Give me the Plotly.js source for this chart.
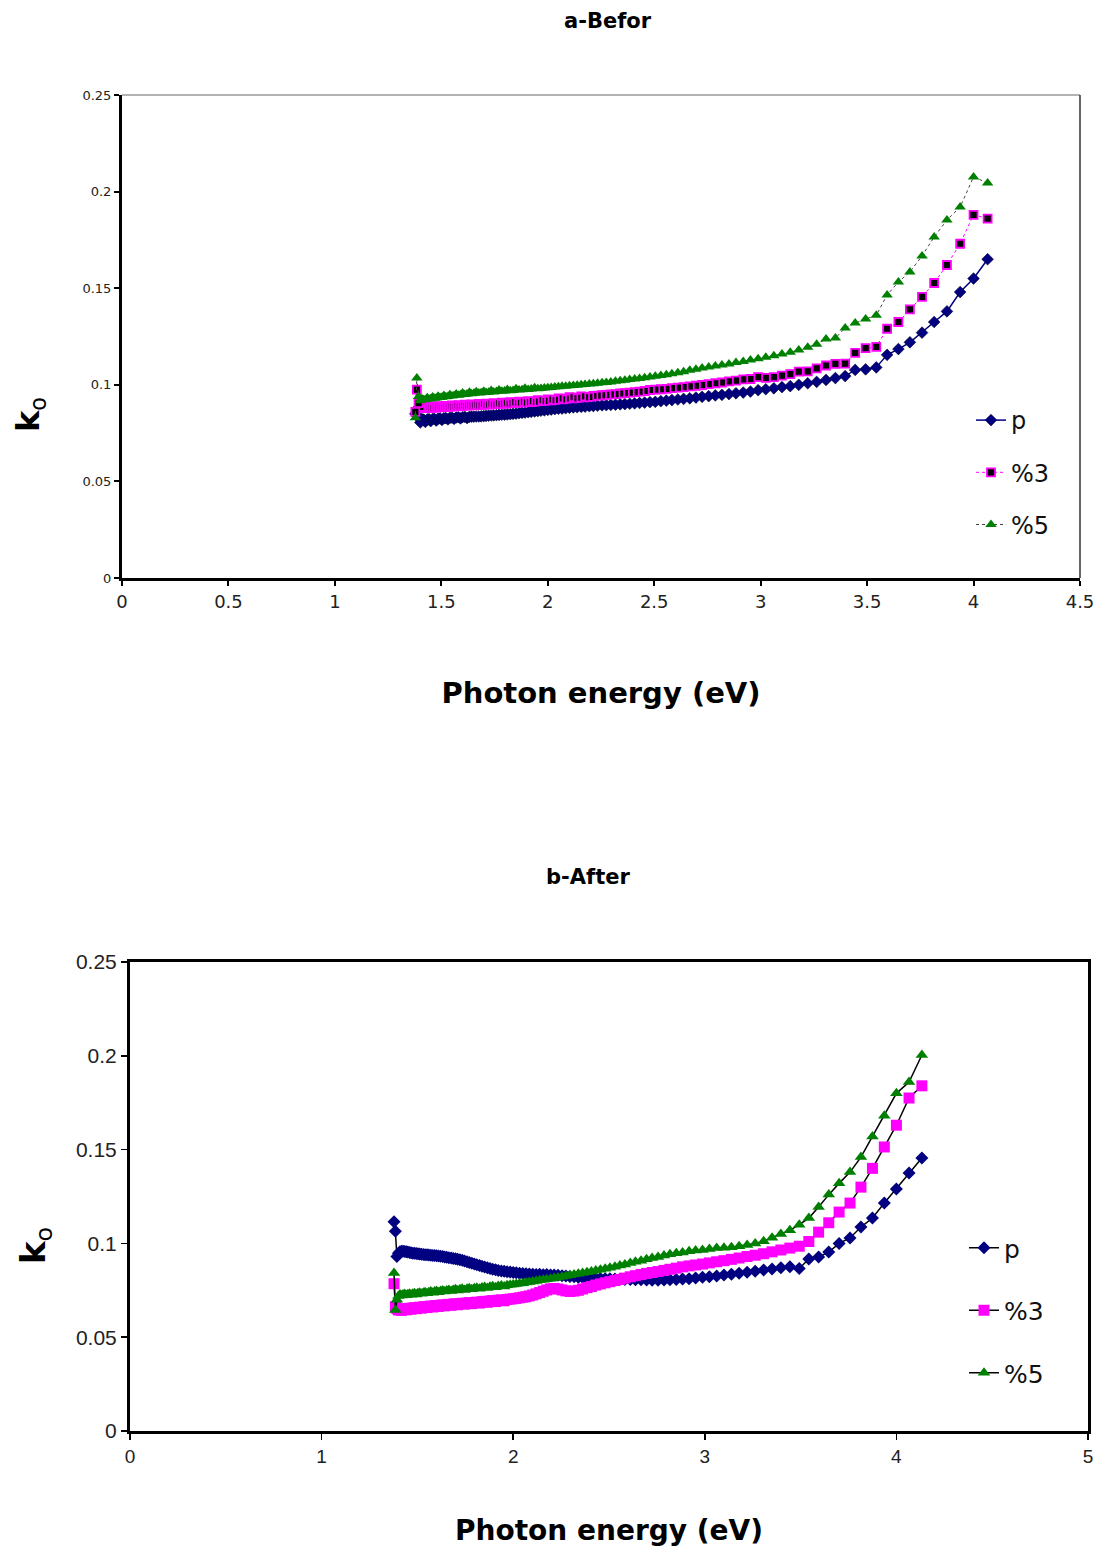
<!DOCTYPE html>
<html><head><meta charset="utf-8">
<script src="https://cdn.plot.ly/plotly-3.0.1.min.js"></script>
<style>html,body{margin:0;padding:0;background:#fff}#chart{width:1103px;height:1551px}</style>
</head><body><div id="chart"></div>
<script>
// Photon energy (eV) for each measured wavelength, 300 nm ... 900 nm in 5 nm steps
const energy = [4.133,4.066,4.000,3.937,3.875,3.815,3.758,3.701,3.647,3.594,
3.543,3.493,3.444,3.397,3.351,3.307,3.263,3.221,3.179,3.139,
3.100,3.062,3.024,2.988,2.952,2.918,2.884,2.851,2.818,2.787,
2.756,2.725,2.696,2.667,2.638,2.611,2.583,2.557,2.531,2.505,
2.480,2.455,2.431,2.408,2.385,2.362,2.340,2.318,2.296,2.275,
2.255,2.234,2.214,2.195,2.175,2.157,2.138,2.120,2.102,2.084,
2.067,2.050,2.033,2.016,2.000,1.984,1.968,1.953,1.938,1.922,
1.908,1.893,1.879,1.865,1.851,1.837,1.824,1.810,1.797,1.784,
1.771,1.759,1.746,1.734,1.722,1.710,1.699,1.687,1.676,1.664,
1.653,1.642,1.632,1.621,1.610,1.600,1.590,1.580,1.570,1.560,
1.550,1.540,1.531,1.521,1.512,1.503,1.494,1.485,1.476,1.467,
1.459,1.450,1.442,1.434,1.425,1.417,1.409,1.401,1.393,1.385,1.378];

const seriesNames = ['p', '%3', '%5'];

// a-Befor
const before_p = [null,0.165,0.155,0.148,0.138,0.1325,0.127,0.122,0.1185,0.1155,
0.109,0.108,0.1077,0.1045,0.1035,0.1025,0.1015,0.1008,0.1000,0.0993,
0.0988,0.0982,0.0977,0.0972,0.0965,0.0960,0.0956,0.0952,0.0948,0.0945,
0.0941,0.0938,0.0934,0.0930,0.0927,0.0924,0.0921,0.0918,0.0915,0.0912,
0.0910,0.0908,0.0906,0.0904,0.0902,0.0900,0.0899,0.0897,0.0896,0.0895,
0.0894,0.0892,0.0890,0.0889,0.0887,0.0886,0.0884,0.0883,0.0881,0.0879,
0.0877,0.0876,0.0874,0.0872,0.0870,0.0868,0.0866,0.0864,0.0862,0.0860,
0.0858,0.0856,0.0855,0.0853,0.0851,0.0850,0.0848,0.0847,0.0846,0.0845,
0.0844,0.0843,0.0842,0.0841,0.0840,0.0839,0.0838,0.0837,0.0836,0.0836,
0.0835,0.0835,0.0834,0.0828,0.0834,0.0833,0.0826,0.0832,0.0831,0.0824,
0.0830,0.0829,0.0821,0.0828,0.0827,0.0818,0.0826,0.0825,0.0815,0.0824,
0.0823,0.0812,0.0822,0.0821,0.0808,0.0820,0.0822,0.0805,0.0830,0.0875,0.0850];

const before_3 = [null,0.186,0.188,0.173,0.162,0.1527,0.1455,0.139,0.1325,0.129,
0.1196,0.119,0.1165,0.111,0.1108,0.110,0.1085,0.1070,0.1068,0.1055,
0.1048,0.1040,0.1036,0.1040,0.1030,0.1028,0.1022,0.1018,0.1012,0.1008,
0.1003,0.0999,0.0995,0.0992,0.0988,0.0985,0.0983,0.0979,0.0977,0.0975,
0.0973,0.0968,0.0965,0.0962,0.0960,0.0957,0.0955,0.0952,0.0950,0.0948,
0.0946,0.0944,0.0942,0.0938,0.0935,0.0940,0.0933,0.0930,0.0936,0.0928,
0.0925,0.0930,0.0922,0.0920,0.0925,0.0917,0.0915,0.0920,0.0913,0.0911,
0.0916,0.0910,0.0908,0.0913,0.0907,0.0905,0.0910,0.0904,0.0902,0.0907,
0.0901,0.0900,0.0905,0.0899,0.0898,0.0903,0.0897,0.0896,0.0901,0.0895,
0.0894,0.0899,0.0893,0.0892,0.0897,0.0891,0.0890,0.0895,0.0889,0.0888,
0.0893,0.0887,0.0886,0.0891,0.0885,0.0884,0.0889,0.0883,0.0882,0.0888,
0.0882,0.0881,0.0887,0.0881,0.0880,0.0886,0.0882,0.0885,0.0905,0.0975,0.0860];

const before_5 = [null,0.2045,0.2076,0.192,0.1853,0.1765,0.1667,0.1584,0.1532,0.1465,
0.136,0.134,0.132,0.1294,0.1242,0.1237,0.1210,0.1195,0.1180,0.1168,
0.1160,0.1150,0.1142,0.1135,0.1128,0.1120,0.1115,0.1108,0.1102,0.1097,
0.1092,0.1087,0.1080,0.1075,0.1068,0.1062,0.1057,0.1052,0.1048,0.1044,
0.1040,0.1036,0.1033,0.1030,0.1027,0.1024,0.1021,0.1018,0.1015,0.1012,
0.1010,0.1008,0.1006,0.1004,0.1002,0.1000,0.0998,0.0997,0.0995,0.0993,
0.0992,0.0990,0.0988,0.0986,0.0985,0.0983,0.0981,0.0980,0.0985,0.0978,
0.0976,0.0982,0.0975,0.0973,0.0979,0.0971,0.0969,0.0976,0.0968,0.0966,
0.0973,0.0965,0.0963,0.0970,0.0962,0.0960,0.0967,0.0959,0.0957,0.0964,
0.0956,0.0954,0.0961,0.0952,0.0950,0.0957,0.0948,0.0946,0.0953,0.0944,
0.0942,0.0949,0.0940,0.0938,0.0945,0.0936,0.0934,0.0941,0.0932,0.0930,
0.0937,0.0928,0.0926,0.0933,0.0924,0.0922,0.0928,0.0918,0.0940,0.1035,0.0830];

// b-After
const after_p = [0.1455,0.1375,0.1290,0.1215,0.1135,0.1087,0.1029,0.1000,0.0954,0.0927,
0.0917,0.0866,0.0875,0.0870,0.0864,0.0858,0.0852,0.0846,0.0841,0.0836,
0.0831,0.0826,0.0822,0.0819,0.0815,0.0812,0.0810,0.0808,0.0806,0.0805,
0.0804,0.0804,0.0805,0.0806,0.0806,0.0807,0.0808,0.0809,0.0810,0.0811,
0.0812,0.0813,0.0814,0.0815,0.0817,0.0818,0.0820,0.0822,0.0824,0.0826,
0.0828,0.0830,0.0831,0.0832,0.0834,0.0833,0.0835,0.0834,0.0836,0.0837,
0.0838,0.0840,0.0841,0.0843,0.0845,0.0847,0.0849,0.0851,0.0853,0.0856,
0.0859,0.0862,0.0866,0.0870,0.0874,0.0878,0.0882,0.0886,0.0890,0.0894,
0.0898,0.0902,0.0906,0.0910,0.0913,0.0916,0.0918,0.0920,0.0922,0.0924,
0.0926,0.0928,0.0930,0.0932,0.0933,0.0934,0.0935,0.0936,0.0937,0.0938,
0.0939,0.0940,0.0941,0.0942,0.0943,0.0945,0.0946,0.0947,0.0948,0.0950,
0.0952,0.0954,0.0955,0.0957,0.0958,0.0958,0.0955,0.0948,0.0930,0.1065,0.1115];

const after_3 = [0.1840,0.1775,0.1630,0.1514,0.1400,0.1300,0.1215,0.1167,0.1110,0.1060,
0.1010,0.0985,0.0975,0.0965,0.0955,0.0945,0.0937,0.0930,0.0922,0.0915,
0.0908,0.0902,0.0896,0.0890,0.0885,0.0880,0.0875,0.0868,0.0862,0.0856,
0.0850,0.0845,0.0840,0.0834,0.0828,0.0822,0.0815,0.0808,0.0802,0.0796,
0.0790,0.0784,0.0778,0.0770,0.0764,0.0757,0.0750,0.0746,0.0744,0.0747,
0.0752,0.0757,0.0760,0.0758,0.0752,0.0745,0.0738,0.0731,0.0725,0.0720,
0.0716,0.0713,0.0710,0.0707,0.0705,0.0703,0.0701,0.0694,0.0699,0.0697,
0.0690,0.0695,0.0693,0.0686,0.0691,0.0689,0.0682,0.0687,0.0685,0.0679,
0.0684,0.0682,0.0676,0.0681,0.0679,0.0673,0.0678,0.0676,0.0670,0.0675,
0.0673,0.0667,0.0672,0.0670,0.0664,0.0669,0.0667,0.0661,0.0666,0.0664,
0.0658,0.0663,0.0661,0.0655,0.0660,0.0658,0.0652,0.0657,0.0655,0.0649,
0.0654,0.0652,0.0646,0.0651,0.0649,0.0643,0.0648,0.0645,0.0652,0.0662,0.0785];

const after_5 = [0.2004,0.1860,0.1800,0.1680,0.1570,0.1460,0.1380,0.1320,0.1260,0.1194,
0.1135,0.1100,0.1070,0.1050,0.1030,0.1012,0.1000,0.0992,0.0985,0.0980,
0.0977,0.0975,0.0970,0.0965,0.0962,0.0958,0.0952,0.0948,0.0942,0.0935,
0.0928,0.0922,0.0915,0.0908,0.0902,0.0895,0.0888,0.0882,0.0876,0.0870,
0.0865,0.0860,0.0855,0.0850,0.0846,0.0842,0.0838,0.0834,0.0830,0.0826,
0.0822,0.0818,0.0815,0.0812,0.0809,0.0806,0.0803,0.0800,0.0797,0.0794,
0.0791,0.0788,0.0786,0.0783,0.0781,0.0779,0.0777,0.0770,0.0776,0.0773,
0.0766,0.0772,0.0769,0.0762,0.0768,0.0765,0.0758,0.0764,0.0761,0.0755,
0.0761,0.0758,0.0752,0.0758,0.0755,0.0749,0.0755,0.0752,0.0746,0.0752,
0.0749,0.0743,0.0749,0.0746,0.0740,0.0746,0.0743,0.0737,0.0743,0.0740,
0.0734,0.0740,0.0737,0.0731,0.0737,0.0734,0.0728,0.0734,0.0731,0.0726,
0.0732,0.0729,0.0724,0.0730,0.0727,0.0722,0.0728,0.0720,0.0700,0.0645,0.0842];

const xTitle = 'Photon energy (eV)';
const W = 1103, H = 1551;
const px = v => v / W;
const py = v => 1 - v / H;

const traces = [
  {x: energy, y: before_p, name: seriesNames[0], xaxis: 'x', yaxis: 'y', legend: 'legend', legendgroup: 'a0',
   mode: 'lines+markers', line: {color: '#000080', width: 1.5},
   marker: {symbol: 'diamond', size: 9, color: '#000080', line: {color: '#000033', width: 0.6}}},
  {x: energy, y: before_3, name: seriesNames[1], xaxis: 'x', yaxis: 'y', legend: 'legend', legendgroup: 'a1',
   mode: 'lines+markers', line: {color: '#ff00ff', width: 1, dash: 'dot'},
   marker: {symbol: 'square', size: 8, color: '#000000', line: {color: '#ff00ff', width: 1.8}}},
  {x: energy, y: before_5, name: seriesNames[2], xaxis: 'x', yaxis: 'y', legend: 'legend', legendgroup: 'a2',
   mode: 'lines+markers', line: {color: '#444444', width: 1, dash: 'dot'},
   marker: {symbol: 'triangle-up', size: 10, color: '#008000', line: {width: 0}}},
  {x: energy, y: after_p, name: seriesNames[0], xaxis: 'x2', yaxis: 'y2', legend: 'legend2', legendgroup: 'b0',
   mode: 'lines+markers', line: {color: '#000000', width: 1.5},
   marker: {symbol: 'diamond', size: 10, color: '#000080', line: {width: 0}}},
  {x: energy, y: after_3, name: seriesNames[1], xaxis: 'x2', yaxis: 'y2', legend: 'legend2', legendgroup: 'b1',
   mode: 'lines+markers', line: {color: '#000000', width: 1.5},
   marker: {symbol: 'square', size: 11, color: '#ff00ff', line: {width: 0}}},
  {x: energy, y: after_5, name: seriesNames[2], xaxis: 'x2', yaxis: 'y2', legend: 'legend2', legendgroup: 'b2',
   mode: 'lines+markers', line: {color: '#000000', width: 1.5},
   marker: {symbol: 'triangle-up', size: 11, color: '#008000', line: {width: 0}}}
];

const axisCommon = {showgrid: false, zeroline: false, showline: true, linecolor: '#000', ticks: 'outside',
  tickcolor: '#000', fixedrange: true};

const layout = {
  width: W, height: H, margin: {l: 0, r: 0, t: 0, b: 0},
  paper_bgcolor: '#fff', plot_bgcolor: '#fff',
  xaxis: Object.assign({}, axisCommon, {domain: [px(122), px(1080)], anchor: 'y', range: [0, 4.5], dtick: 0.5, tick0: 0,
    linewidth: 3, ticklen: 5, tickwidth: 2,
    tickfont: {family: 'DejaVu Sans', size: 18, color: '#222'},
    title: {text: '<b>' + xTitle + '</b>', font: {family: 'DejaVu Sans', size: 29, color: '#000'}, standoff: 73}}),
  yaxis: Object.assign({}, axisCommon, {domain: [py(578), py(95)], anchor: 'x', range: [0, 0.25], dtick: 0.05, tick0: 0,
    linewidth: 3, ticklen: 5, tickwidth: 2,
    tickfont: {family: 'DejaVu Sans', size: 13, color: '#222'}}),
  xaxis2: Object.assign({}, axisCommon, {domain: [px(130), px(1088)], anchor: 'y2', range: [0, 5], dtick: 1, tick0: 0,
    linewidth: 3, mirror: true, ticklen: 6, tickwidth: 1.5,
    tickfont: {family: 'Liberation Sans', size: 19, color: '#222'},
    title: {text: '<b>' + xTitle + '</b>', font: {family: 'DejaVu Sans', size: 28, color: '#000'}, standoff: 55}}),
  yaxis2: Object.assign({}, axisCommon, {domain: [py(1431), py(962)], anchor: 'x2', range: [0, 0.25], dtick: 0.05, tick0: 0,
    linewidth: 3, mirror: true, ticklen: 6, tickwidth: 1.5,
    tickfont: {family: 'Liberation Sans', size: 21, color: '#222'}}),
  shapes: [
    {type: 'line', xref: 'x domain', yref: 'y domain', x0: 0, x1: 1, y0: 1, y1: 1, line: {color: '#666', width: 1}},
    {type: 'line', xref: 'x domain', yref: 'y domain', x0: 1, x1: 1, y0: 0, y1: 1, line: {color: '#333', width: 1.5}}
  ],
  legend: {x: px(971), y: py(398), xanchor: 'left', yanchor: 'top', bgcolor: 'rgba(0,0,0,0)',
    font: {family: 'DejaVu Sans', size: 24, color: '#111'}, traceorder: 'grouped', tracegroupgap: 18, itemwidth: 30},
  legend2: {x: px(964), y: py(1225), xanchor: 'left', yanchor: 'top', bgcolor: 'rgba(0,0,0,0)',
    font: {family: 'DejaVu Sans', size: 25, color: '#111'}, traceorder: 'grouped', tracegroupgap: 27, itemwidth: 30},
  annotations: [
    {text: '<b>a-Befor</b>', xref: 'paper', yref: 'paper', x: px(608), y: py(21), xanchor: 'center', yanchor: 'middle',
     showarrow: false, font: {family: 'DejaVu Sans', size: 21, color: '#000'}},
    {text: '<b>b-After</b>', xref: 'paper', yref: 'paper', x: px(588), y: py(877), xanchor: 'center', yanchor: 'middle',
     showarrow: false, font: {family: 'DejaVu Sans', size: 21, color: '#000'}},
    {text: '<b>k</b><sub>o</sub>', xref: 'paper', yref: 'paper', x: px(30), y: py(415), xanchor: 'center', yanchor: 'middle',
     showarrow: false, textangle: -90, font: {family: 'DejaVu Sans', size: 32, color: '#000'}},
    {text: '<b>k</b><sub>o</sub>', xref: 'paper', yref: 'paper', x: px(35), y: py(1246), xanchor: 'center', yanchor: 'middle',
     showarrow: false, textangle: -90, font: {family: 'DejaVu Sans', size: 34, color: '#000'}}
  ],
  showlegend: true
};

Plotly.newPlot('chart', traces, layout, {staticPlot: true, displayModeBar: false});
</script>
</body></html>
